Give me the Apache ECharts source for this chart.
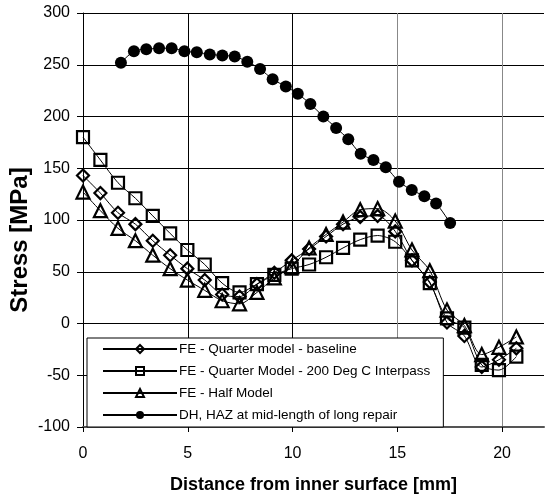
<!DOCTYPE html>
<html>
<head>
<meta charset="utf-8">
<script src="https://cdn.jsdelivr.net/npm/echarts@6/dist/echarts.min.js"></script>
<style>html,body{margin:0;padding:0;background:#fff}#c{width:545px;height:500px}</style>
</head>
<body>
<div id="c"></div>
<script>
// FE models share the same x positions (mm)
var feX = [0, 0.83, 1.67, 2.5, 3.33, 4.16, 4.98, 5.81, 6.64, 7.47, 8.3, 9.13, 9.96, 10.79, 11.6, 12.41, 13.23, 14.06, 14.9, 15.7, 16.55, 17.37, 18.2, 19.03, 19.85, 20.68];
var baseline = [143, 126, 107, 96, 80, 66, 53, 42, 28, 26, 38, 49, 61, 72, 84, 96, 103, 104, 89, 61, 40, 1, -12, -42, -35, -24];
var interpass = [180, 158, 136, 121, 104, 87, 71, 57, 39, 30, 38, 47, 53, 57, 64, 73, 81, 85, 79, 61, 39, 5, -4, -40, -45, -32];
var halfModel = [127, 109, 92, 80, 66, 53, 42, 32, 22, 19, 30, 44, 55, 73, 86, 98, 110, 111, 99, 71, 51, 13, -2, -30, -23, -13];
// DH measurement
var dhX = [1.81, 2.43, 3.02, 3.63, 4.23, 4.84, 5.43, 6.05, 6.65, 7.24, 7.84, 8.45, 9.05, 9.68, 10.25, 10.85, 11.47, 12.08, 12.66, 13.25, 13.86, 14.45, 15.08, 15.69, 16.29, 16.85, 17.52];
var dhY = [252, 263, 265, 266, 266, 263, 262, 260, 259, 258, 253, 246, 236, 229, 222, 212, 200, 189, 178, 164, 158, 151, 137, 129, 123, 116, 97];
var seriesNames = ['FE - Quarter model - baseline', 'FE - Quarter Model - 200 Deg C Interpass', 'FE - Half Model', 'DH, HAZ at mid-length of long repair'];
var xTitle = 'Distance from inner surface [mm]';
var yTitle = 'Stress [MPa]';
var xTicks = {min: 0, max: 22, interval: 5};
var yTicks = {min: -100, max: 300, interval: 50};

function pairs(xs, ys) { return xs.map(function (x, i) { return [x, ys[i]]; }); }

var font = '"Liberation Sans", Arial, sans-serif';
var chart = echarts.init(document.getElementById('c'), null, {renderer: 'canvas'});
function hollow(name, data, symbol, size) {
  return {
    name: name, type: 'line', data: data, smooth: 0.3,
    symbol: symbol, symbolSize: size, showAllSymbol: true,
    lineStyle: {color: '#000', width: 1},
    itemStyle: {color: 'rgba(255,255,255,0)', borderColor: '#000', borderWidth: 2.2},
    emphasis: {disabled: true}
  };
}
chart.setOption({
  animation: false,
  textStyle: {fontFamily: font},
  grid: {left: 83, top: 13, right: 1, bottom: 73, containLabel: false},
  graphic: [{
    type: 'text', x: 20, y: 240, rotation: Math.PI / 2,
    style: {text: yTitle, fill: '#000', font: 'bold 24px ' + font, textAlign: 'center', textVerticalAlign: 'middle'}
  }],
  legend: {
    orient: 'vertical', left: 87, top: 338,
    padding: [4, 13, 5, 15],
    backgroundColor: '#fff', borderColor: '#000', borderWidth: 1,
    itemWidth: 74, itemHeight: 10, itemGap: 8,
    textStyle: {fontSize: 13.5, lineHeight: 14, color: '#000', fontFamily: font, padding: [0, 0, 0, -3]},
    data: seriesNames
  },
  xAxis: {
    type: 'value', min: xTicks.min, max: xTicks.max, interval: xTicks.interval,
    name: xTitle, nameLocation: 'middle', nameGap: 49,
    nameTextStyle: {fontSize: 18, fontWeight: 'bold', color: '#000', fontFamily: font},
    axisLine: {show: true, onZero: false, lineStyle: {color: '#555', width: 2}},
    axisTick: {show: true, length: 5, lineStyle: {color: '#000'}},
    axisLabel: {fontSize: 16, color: '#000', margin: 19, showMaxLabel: false},
    splitLine: {show: true, showMaxLine: false, lineStyle: {color: ['#000', '#000', '#000', '#888', '#888'], width: 1}}
  },
  yAxis: {
    type: 'value', min: yTicks.min, max: yTicks.max, interval: yTicks.interval,
    axisLine: {show: true, lineStyle: {color: '#000', width: 1}},
    axisTick: {show: true, length: 6, lineStyle: {color: '#000'}},
    axisLabel: {fontSize: 16, color: '#000', margin: 13},
    splitLine: {show: true, lineStyle: {color: '#000', width: 1}}
  },
  series: [
    hollow(seriesNames[0], pairs(feX, baseline), 'diamond', 12),
    hollow(seriesNames[1], pairs(feX, interpass), 'rect', 12),
    hollow(seriesNames[2], pairs(feX, halfModel), 'triangle', 13),
    {
      name: seriesNames[3], type: 'line', data: pairs(dhX, dhY), smooth: 0.3,
      symbol: 'circle', symbolSize: 12, showAllSymbol: true,
      lineStyle: {color: '#000', width: 1},
      itemStyle: {color: '#000', borderColor: '#000', borderWidth: 0},
      emphasis: {disabled: true}
    }
  ]
});
</script>
</body>
</html>
